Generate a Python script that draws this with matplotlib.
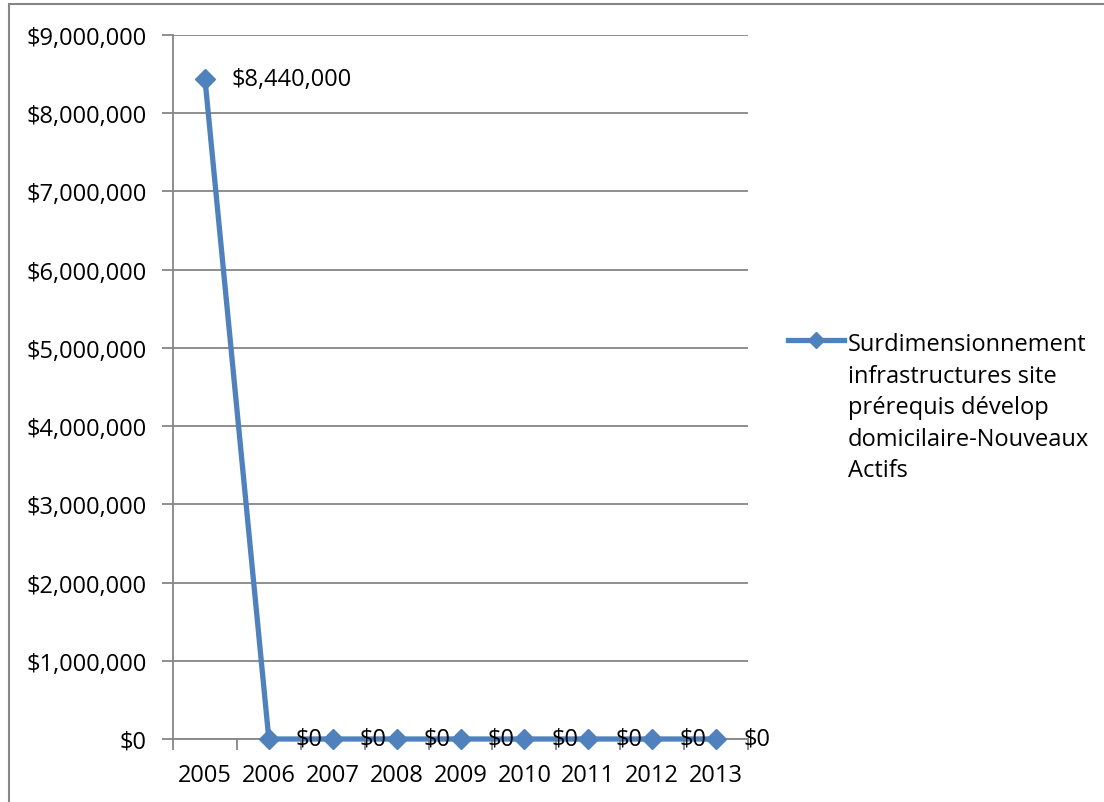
import matplotlib
matplotlib.use("Agg")
import matplotlib.pyplot as plt
from matplotlib.patches import Rectangle
from matplotlib.lines import Line2D
from matplotlib.ticker import FuncFormatter, FixedLocator

plt.rcParams['font.family'] = ['Open Sans', 'DejaVu Sans']

years = ["2005", "2006", "2007", "2008", "2009", "2010", "2011", "2012", "2013"]
values = [8440000, 0, 0, 0, 0, 0, 0, 0, 0]
series_name = ("Surdimensionnement\ninfrastructures site\nprérequis dévelop\n"
               "domicilaire-Nouveaux\nActifs")
y_ticks = [0, 1000000, 2000000, 3000000, 4000000, 5000000,
           6000000, 7000000, 8000000, 9000000]

blue = "#4F81BD"
grey = "#868686"
fs = 17

fig = plt.figure(figsize=(11.04, 8.03), dpi=100)
ax = fig.add_axes([173/1104, 1 - 740/803, (748-173)/1104, (740-36)/803])

x = list(range(len(years)))
ax.plot(x, values, color=blue, lw=3.8, marker="D", markersize=10,
        markeredgecolor=blue, markerfacecolor=blue, zorder=3, clip_on=False)

def money(v, pos=None):
    return "${:,.0f}".format(v)

for xi, v in zip(x, values):
    ax.annotate(money(v), (xi, v), xytext=(27, 0), textcoords="offset pixels",
                ha="left", va="center", fontsize=fs, color="black",
                annotation_clip=False, zorder=4)

ax.set_xlim(-0.5, len(years) - 0.5)
ax.set_ylim(0, 9000000)
ax.yaxis.set_major_locator(FixedLocator(y_ticks))
ax.yaxis.set_major_formatter(FuncFormatter(money))
ax.set_xticks(x)
ax.set_xticklabels(years)
ax.xaxis.set_minor_locator(FixedLocator([i - 0.5 for i in range(len(years) + 1)]))

ax.tick_params(axis="y", which="major", length=8, width=1.3, color=grey,
               labelsize=fs, pad=11)
ax.tick_params(axis="x", which="major", length=0, labelsize=fs, pad=17)
ax.tick_params(axis="x", which="minor", length=8, width=1.3, color=grey)

ax.grid(axis="y", color=grey, lw=1.3)
ax.set_axisbelow(True)
for side in ("top", "right"):
    ax.spines[side].set_visible(False)
for side in ("left", "bottom"):
    ax.spines[side].set_color(grey)
    ax.spines[side].set_linewidth(1.3)

# legend entry: handle beside the first line of the wrapped series name
ly = 1 - 341/803
fig.add_artist(Line2D([788/1104, 844/1104], [ly, ly], transform=fig.transFigure,
                      color=blue, lw=3.8))
fig.add_artist(Line2D([816/1104], [ly], transform=fig.transFigure, color=blue,
                      marker="D", markersize=8.5, lw=0))
fig.text(848/1104, 1 - 333/803, series_name, ha="left", va="top",
         fontsize=fs, linespacing=1.42, color="black")

fig.patches.append(Rectangle((9/1104, -0.2), 1.5, 1.2 - 5/803,
                             transform=fig.transFigure, fill=False,
                             edgecolor=grey, lw=1.5))

fig.savefig("out.png", dpi=100)
